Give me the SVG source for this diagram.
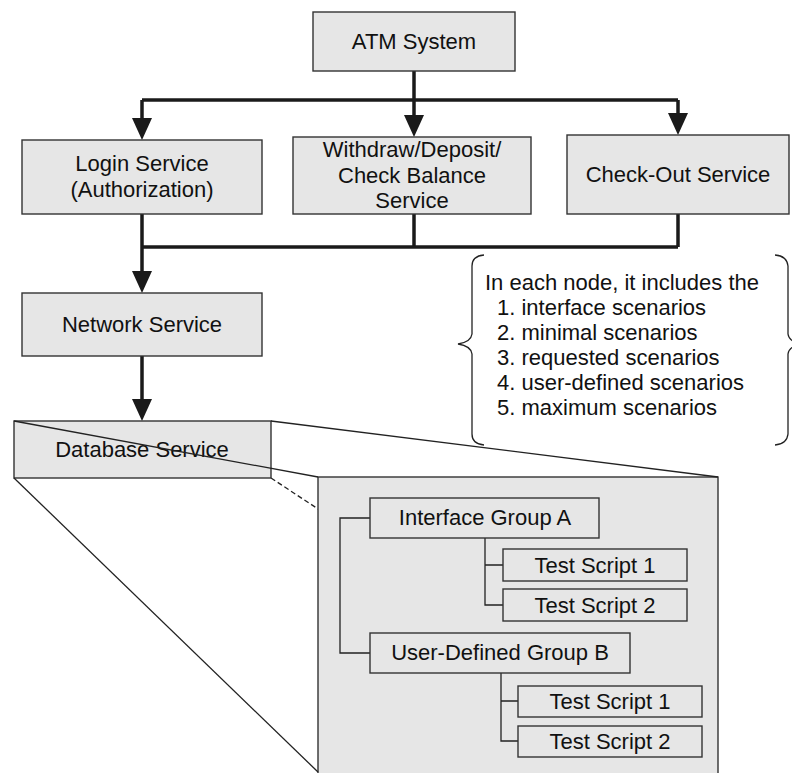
<svg xmlns="http://www.w3.org/2000/svg" width="792" height="773" viewBox="0 0 792 773">
<style>
  .box { fill: #e6e6e6; stroke: #333333; stroke-width: 1.4; }
  .t { font-family: "Liberation Sans", Arial, sans-serif; font-size: 22px; fill: #111111; text-anchor: middle; }
  .tl { font-family: "Liberation Sans", Arial, sans-serif; font-size: 22px; fill: #111111; }
  .thick { fill: none; stroke: #1a1a1a; stroke-width: 3.5; }
  .thin { fill: none; stroke: #222222; stroke-width: 1.3; }
</style>
<defs>
  <marker id="arr" viewBox="0 0 22 20" refX="14" refY="10" markerWidth="22" markerHeight="20" markerUnits="userSpaceOnUse" orient="auto">
    <path d="M0,0 L22,10 L0,20 z" fill="#1a1a1a"/>
  </marker>
</defs>
<rect width="792" height="773" fill="#ffffff"/>

<g id="connectors">
  <path class="thick" d="M414,71 V129" marker-end="url(#arr)"/>
  <path class="thick" d="M142,100 H678"/>
  <path class="thick" d="M142,100 V132" marker-end="url(#arr)"/>
  <path class="thick" d="M678,100 V127" marker-end="url(#arr)"/>
  <path class="thick" d="M142,214 V285" marker-end="url(#arr)"/>
  <path class="thick" d="M414,214 V247"/>
  <path class="thick" d="M678,214 V247"/>
  <path class="thick" d="M142,247 H678"/>
  <path class="thick" d="M142,356 V413" marker-end="url(#arr)"/>
</g>

<g id="atm"><rect class="box" x="313" y="12" width="202" height="59"/><text class="t" x="414" y="49">ATM System</text></g>
<g id="login"><rect class="box" x="22" y="140" width="240" height="74"/><text class="t" x="142" y="171">Login Service</text><text class="t" x="142" y="197">(Authorization)</text></g>
<g id="withdraw"><rect class="box" x="293" y="137" width="238" height="77"/><text class="t" x="412" y="157">Withdraw/Deposit/</text><text class="t" x="412" y="183">Check Balance</text><text class="t" x="412" y="208">Service</text></g>
<g id="checkout"><rect class="box" x="567" y="135" width="222" height="79"/><text class="t" x="678" y="182">Check-Out Service</text></g>
<g id="network"><rect class="box" x="22" y="293" width="240" height="63"/><text class="t" x="142" y="332">Network Service</text></g>

<g id="note">
  <path class="thin" d="M484,255 Q472,256 472,266 L472,334 Q471,342 458,344 Q471,346 472,354 L472,434 Q472,444 484,445"/>
  <path class="thin" d="M775,255 Q787,256 788,266 L788,334 Q789,342 802,344 Q789,346 788,354 L788,434 Q787,444 775,445"/>
  <text class="tl" x="485" y="290">In each node, it includes the</text>
  <text class="tl" x="497" y="315">1. interface scenarios</text>
  <text class="tl" x="497" y="340">2. minimal scenarios</text>
  <text class="tl" x="497" y="365">3. requested scenarios</text>
  <text class="tl" x="497" y="390">4. user-defined scenarios</text>
  <text class="tl" x="497" y="415">5. maximum scenarios</text>
</g>

<g id="zoom-lines-back">
  <path d="M271,478 L718,772" fill="none" stroke="#222222" stroke-width="1.3" stroke-dasharray="5,3"/>
</g>

<g id="database"><rect class="box" x="14" y="421" width="257" height="57"/><text class="t" x="142" y="457">Database Service</text></g>

<g id="detail">
  <rect class="box" x="318" y="477" width="400" height="300"/>
  <path class="thin" d="M370,518 H340 V653 H370"/>
  <path class="thin" d="M485,538 V605 H503 M485,565 H503"/>
  <path class="thin" d="M501,673 V741 H518 M501,701 H518"/>
  <g id="groupA"><rect class="box" x="370" y="498" width="229" height="40"/><text class="t" x="485" y="525">Interface Group A</text></g>
  <g id="scriptA1"><rect class="box" x="503" y="549" width="184" height="32"/><text class="t" x="595" y="573">Test Script 1</text></g>
  <g id="scriptA2"><rect class="box" x="503" y="589" width="184" height="32"/><text class="t" x="595" y="613">Test Script 2</text></g>
  <g id="groupB"><rect class="box" x="370" y="633" width="260" height="40"/><text class="t" x="500" y="660">User-Defined Group B</text></g>
  <g id="scriptB1"><rect class="box" x="518" y="686" width="184" height="31"/><text class="t" x="610" y="709">Test Script 1</text></g>
  <g id="scriptB2"><rect class="box" x="518" y="726" width="184" height="31"/><text class="t" x="610" y="749">Test Script 2</text></g>
</g>

<g id="zoom-lines-front">
  <path class="thin" d="M14,421 L318,477"/>
  <path class="thin" d="M271,421 L718,477"/>
  <path class="thin" d="M14,478 L318,772"/>
</g>
</svg>
